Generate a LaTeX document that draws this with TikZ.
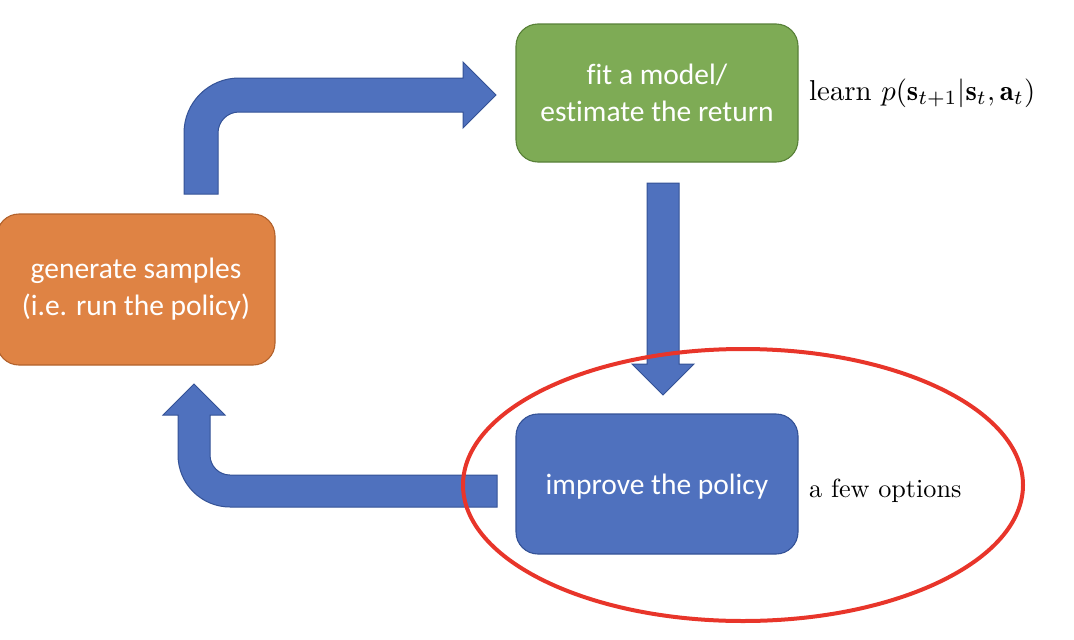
\documentclass[tikz,border=0pt]{standalone}
\usepackage{fontspec}
\newfontfamily\boxfont[Ligatures=NoCommon]{Carlito}
\definecolor{orfill}{RGB}{223,131,68}
\definecolor{ordraw}{RGB}{178,98,44}
\definecolor{grfill}{RGB}{126,171,85}
\definecolor{grdraw}{RGB}{88,128,56}
\definecolor{blfill}{RGB}{79,113,190}
\definecolor{bldraw}{RGB}{52,82,150}
\definecolor{hlred}{RGB}{232,53,42}
\tikzset{
  stagebox/.style={rounded corners=22pt, draw, line width=1.1pt, text=white,
    align=center, inner sep=0pt,
    font=\boxfont\fontsize{29.5}{37}\selectfont},
  blockarrow/.style={fill=blfill, draw=bldraw, line width=1pt, line join=miter},
  sidelabel/.style={anchor=base west, inner sep=0pt},
  highlight/.style={draw=hlred, line width=4pt}
}
\begin{document}
\begin{tikzpicture}[x=1pt,y=-1pt]
\useasboundingbox (0,0) rectangle (1074,640);
% boxes
\node[stagebox, fill=orfill, draw=ordraw, minimum width=278pt, minimum height=151pt]
  (gen) at (136,289.5) {generate samples\\(i.e. run the policy)};
\node[stagebox, fill=grfill, draw=grdraw, minimum width=282pt, minimum height=138pt]
  (fit) at (657,93) {fit a model/\\estimate the return};
\node[stagebox, fill=blfill, draw=bldraw, minimum width=282pt, minimum height=140pt,
  text height=27pt, text depth=6pt]
  (imp) at (657,484) {improve the policy};
% side labels
\node[sidelabel] (learn) at (809,100) {\scalebox{2.88}{learn $p(\mathbf{s}_{t+1}|\mathbf{s}_t,\mathbf{a}_t)$}};
\node[sidelabel] (opts) at (809,497) {\scalebox{2.62}{a few options}};
% top bent arrow
\draw[blockarrow] (184,194) -- (184,133) .. controls (184,102.6) and (208.6,78) .. (239,78)
  -- (463,78) -- (463,62) -- (496,95) -- (463,128) -- (463,112) -- (239,112)
  .. controls (227.4,112) and (218,121.4) .. (218,133) -- (218,194) -- cycle;
% down arrow
\draw[blockarrow] (647,183) -- (679,183) -- (679,364) -- (694,364) -- (663,395)
  -- (632,364) -- (647,364) -- cycle;
% bottom bent arrow
\draw[blockarrow] (497,475) -- (230,475) .. controls (218.95,475) and (210,466.05) .. (210,455)
  -- (210,415) -- (225,415) -- (194,384) -- (163,415) -- (178,415) -- (178,455)
  .. controls (178,483.7) and (201.3,507) .. (230,507) -- (497,507) -- cycle;
% highlight ellipse
\draw[highlight] (743,485) ellipse [x radius=280pt, y radius=136pt];
\end{tikzpicture}
\end{document}
